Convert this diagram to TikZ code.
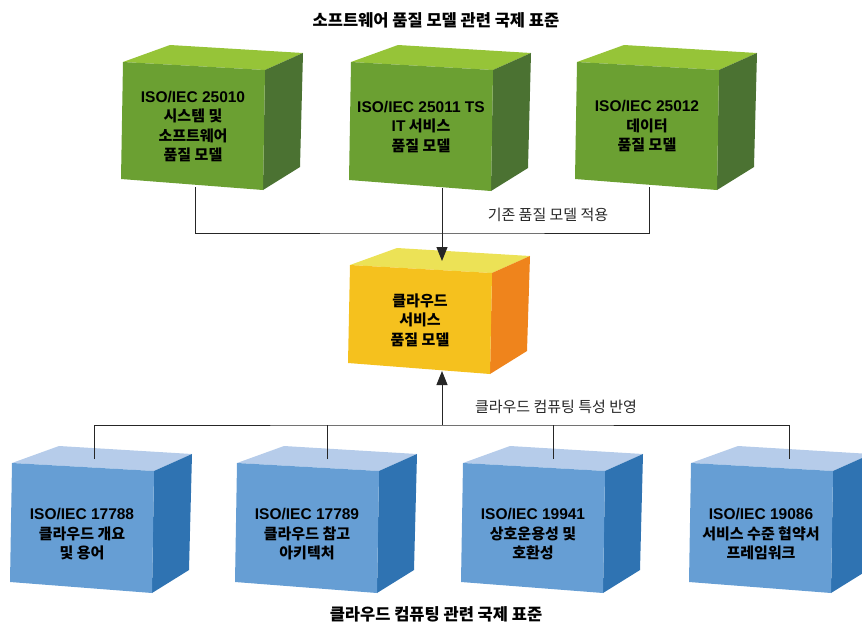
\documentclass[tikz,border=0pt]{standalone}
\usepackage{fontspec}
\setmainfont{Noto Sans CJK KR}
\newfontfamily\latinfont{Liberation Sans}
\usetikzlibrary{arrows.meta}
\definecolor{greenfront}{RGB}{107,160,50}
\definecolor{greentop}{RGB}{150,196,56}
\definecolor{greenside}{RGB}{75,114,50}
\definecolor{yellowfront}{RGB}{245,193,30}
\definecolor{yellowtop}{RGB}{236,226,86}
\definecolor{yellowside}{RGB}{239,132,28}
\definecolor{bluefront}{RGB}{102,158,212}
\definecolor{bluetop}{RGB}{182,204,234}
\definecolor{blueside}{RGB}{47,115,178}
\newcommand{\lat}[1]{{\latinfont\bfseries\fontsize{15.5}{19}\selectfont #1}}
\newcommand{\stdbox}[7][6]{%
  \begin{scope}[shift={(#3,#4)}]
    \fill[#6top] (0,0) -- (47,-17) -- (180,-9) -- (142,8) -- cycle;
    \fill[#6side] (142,8) -- (180,-9) -- (177,{#5-12}) -- (140,{#5+11}) -- cycle;
    \fill[#6front] (0,0) -- (142,8) -- (140,{#5+11}) -- (-2,#5) -- cycle;
    \node[cube-text] (#2) at (70,{#5/2+#1}) {#7};
    \coordinate (#2-bot) at (72,{#5+8});
    \coordinate (#2-top) at (90,-4);
  \end{scope}}
\tikzset{
    cube-text/.style = {align=center, text=black, font=\bfseries\fontsize{15}{19.5}\selectfont},
    edge-label/.style = {text=black!85, font=\fontsize{15}{17}\selectfont},
    std-title/.style = {text=black, font=\bfseries\fontsize{16.5}{19}\selectfont},
    link/.style = {draw=black!85, line width=1pt},
    link-arrow/.style = {link, -{Triangle[length=14pt,width=11pt]}},
}

\begin{document}
\begin{tikzpicture}[x=1pt, y=-1pt]
\useasboundingbox (0,0) rectangle (862,624);
\node[std-title] (title-sw) at (436,20) {소프트웨어 품질 모델 관련 국제 표준};
\node[std-title] (title-cloud) at (436,614) {클라우드 컴퓨팅 관련 국제 표준};

\stdbox{q1}{123}{62}{117}{green}{\lat{ISO/IEC 25010}\\시스템 및\\소프트웨어\\품질 모델}
\stdbox{q2}{351}{62}{118}{green}{\lat{ISO/IEC 25011 TS}\\\lat{IT} 서비스\\품질 모델}
\stdbox{q3}{577}{62}{117}{green}{\lat{ISO/IEC 25012}\\데이터\\품질 모델}
\stdbox{cs}{350}{265}{98}{yellow}{클라우드\\서비스\\품질 모델}
\stdbox[12]{c1}{12}{463}{119}{blue}{\lat{ISO/IEC 17788}\\클라우드 개요\\및 용어}
\stdbox[12]{c2}{237}{463}{119}{blue}{\lat{ISO/IEC 17789}\\클라우드 참고\\아키텍처}
\stdbox[12]{c3}{463}{463}{119}{blue}{\lat{ISO/IEC 19941}\\상호운용성 및\\호환성}
\stdbox[12]{c4}{691}{463}{119}{blue}{\lat{ISO/IEC 19086}\\서비스 수준 협약서\\프레임워크}

\coordinate (join) at (442,233);
\draw[link] (q1-bot) |- (join) -| (q3-bot);
\draw[link-arrow] (q2-bot -| join) -- (join |- cs-top);
\node[edge-label] (reuse) at (548,215) {기존 품질 모델 적용};

\coordinate (split) at (442,425);
\draw[link-arrow] (split) -- (split |- cs-bot);
\draw[link] ([xshift=-8pt]c1-top) |- (split) -| ([xshift=8pt]c4-top);
\draw[link] (c2-top) -- (c2-top |- split);
\draw[link] (c3-top) -- (c3-top |- split);
\node[edge-label] (reflect) at (556,407) {클라우드 컴퓨팅 특성 반영};
\end{tikzpicture}
\end{document}
